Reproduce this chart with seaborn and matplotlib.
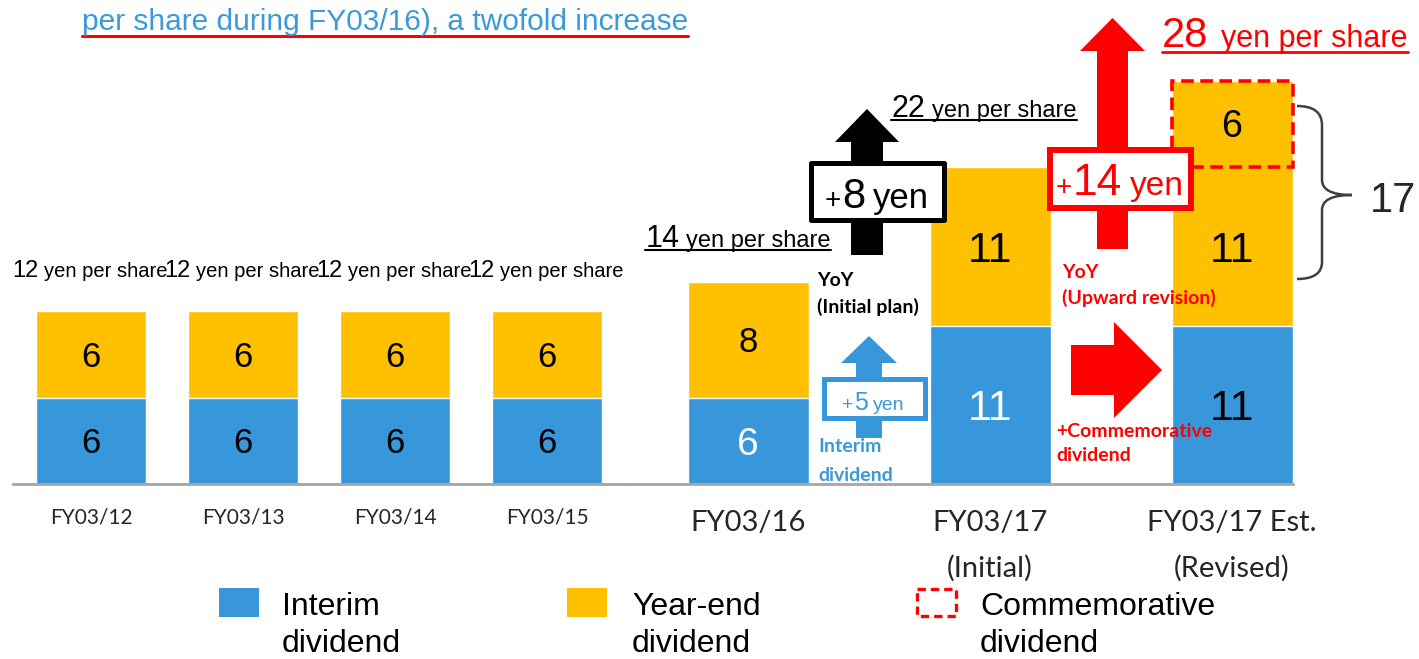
import matplotlib
matplotlib.use("Agg")
import matplotlib.pyplot as plt
import matplotlib.transforms as mtransforms
from matplotlib.patches import Rectangle, Polygon, PathPatch
from matplotlib.path import Path
from matplotlib.lines import Line2D
import pandas as pd
import seaborn as sns

# ---------- data ----------
past_years = ["FY03/12", "FY03/13", "FY03/14", "FY03/15"]
past_interim = [6, 6, 6, 6]
past_yearend = [6, 6, 6, 6]

recent_years = ["FY03/16", "FY03/17\n(Initial)", "FY03/17 Est.\n(Revised)"]
recent_interim = [6, 11, 11]
recent_yearend = [8, 11, 11]
recent_commem = [0, 0, 6]

legend_labels = [["Interim", "dividend"], ["Year-end", "dividend"],
                 ["Commemorative", "dividend"]]
headline = "per share during FY03/16), a twofold increase"

BLUE = "#3797DA"
YELLOW = "#FFC000"
RED = "#FF0000"
TEXT_BLUE = "#3A9AD9"
CALIBRI = ["Lato", "DejaVu Sans"]

sns.set_style("white")
plt.rcParams["font.family"] = ["Liberation Sans", "DejaVu Sans"]

W, H = 1419, 659
fig = plt.figure(figsize=(W / 100, H / 100), dpi=100)
# pixel coordinates of the picture, origin top-left
pix = mtransforms.Affine2D().scale(1 / W, -1 / H).translate(0, 1) + fig.transFigure
renderer = fig.canvas.get_renderer()

BASE = 484          # baseline row in pixels
PX_PER_YEN = 14.4
YMAX = 30
ax_b = (H - BASE) / H
ax_h = YMAX * PX_PER_YEN / H
axL = fig.add_axes([13 / W, ax_b, 614 / W, ax_h])
axR = fig.add_axes([627 / W, ax_b, 665.5 / W, ax_h])

past = pd.DataFrame({"year": past_years, "interim": past_interim, "yearend": past_yearend})
past["total"] = past["interim"] + past["yearend"]
recent = pd.DataFrame({"year": recent_years, "interim": recent_interim,
                       "yearend": recent_yearend, "commem": recent_commem})
recent["total"] = recent["interim"] + recent["yearend"] + recent["commem"]

# stacked bars: full height in yellow, interim part in blue on top of it
for ax, df, w in ((axL, past, 0.72), (axR, recent, 0.5)):
    sns.barplot(data=df, x="year", y="total", color=YELLOW, saturation=1,
                width=w, errorbar=None, ax=ax)
    sns.barplot(data=df, x="year", y="interim", color=BLUE, saturation=1,
                width=w, errorbar=None, ax=ax)

for ax, xlim in ((axL, (-0.513, 3.526)), (axR, (-0.5, 2.25))):
    ax.set_xlim(*xlim)
    ax.set_ylim(0, YMAX)
    ax.set_facecolor("none")
    sns.despine(ax=ax, left=True)
    ax.spines["bottom"].set_color("#A6A6A6")
    ax.spines["bottom"].set_linewidth(2)
    ax.set_yticks([])
    ax.set_xlabel("")
    ax.set_ylabel("")
    ax.tick_params(axis="x", length=0)

axL.set_xticks(range(len(past_years)))
axL.set_xticklabels(past_years, fontsize=15, family=CALIBRI)
axL.tick_params(axis="x", pad=17)
axR.set_xticks(range(len(recent_years)))
axR.set_xticklabels(recent_years, fontsize=21, family=CALIBRI, linespacing=1.85)
axR.tick_params(axis="x", pad=19)


def seg_label(ax, x, y, s, size, color):
    ax.annotate(s, (x, y), xytext=(0, -0.358 * size), textcoords="offset points",
                ha="center", va="baseline", fontsize=size, color=color)


for i, (a, b) in enumerate(zip(past_interim, past_yearend)):
    seg_label(axL, i, a / 2, str(a), 25, "black")
    seg_label(axL, i, a + b / 2, str(b), 25, "black")

interim_style = [(28, "white"), (31, "white"), (31, "black")]
yearend_style = [(25, "black"), (31, "black"), (31, "black")]
for i, (a, b, c) in enumerate(zip(recent_interim, recent_yearend, recent_commem)):
    seg_label(axR, i, a / 2, str(a), *interim_style[i])
    seg_label(axR, i, a + b / 2, str(b), *yearend_style[i])
    if c:
        seg_label(axR, i, a + b + c / 2, str(c), 27, "black")
        axR.add_patch(Rectangle((i - 0.25, a + b), 0.5, c, fill=False, ec=RED, lw=2.6,
                                ls=(0, (3.5, 1.8)), clip_on=False, zorder=5))


def to_pix(ax, x, y):
    px, py = ax.transData.transform((x, y))
    return px, H - py


def runs(parts, x, y, color="black", family=None, ha="center", underline=None, ulw=1.5):
    """Text made of pieces of different sizes on one baseline (pixel coords)."""
    family = family or ["Liberation Sans", "DejaVu Sans"]
    texts = [fig.text(0, 0, s, transform=pix, fontsize=sz, color=color, family=family,
                      ha="left", va="baseline") for s, sz, _ in parts]
    widths = [t.get_window_extent(renderer).width for t in texts]
    total = sum(widths) + sum(g for _, _, g in parts)
    x0 = x - total / 2 if ha == "center" else x
    start = x0
    for t, wd, (_, _, g) in zip(texts, widths, parts):
        x0 += g
        t.set_position((x0, y))
        x0 += wd
    if underline is not None:
        fig.add_artist(Line2D([start, x0], [y + underline] * 2, transform=pix,
                              color=color, lw=ulw))


def lines(x, baselines, strings, **kw):
    """One text per line, each on its own baseline (pixel coords)."""
    for y, s in zip(baselines, strings):
        fig.text(x, y, s, transform=pix, va="baseline", **kw)


# totals above the bars
for i, tot in enumerate(past["total"]):
    px, py = to_pix(axL, i, tot)
    runs([(str(tot), 17, 0), ("yen per share", 14.5, 5)], px - 1, py - 34)

tot = recent["total"].tolist()
px, py = to_pix(axR, 0, tot[0])
runs([(str(tot[0]), 22, 0), ("yen per share", 17, 7)], px - 10, py - 35, underline=3)
px, py = to_pix(axR, 1, tot[1])
runs([(str(tot[1]), 22, 0), ("yen per share", 17, 7)], px - 6, py - 50, underline=3)
px, py = to_pix(axR, 2, tot[2])
runs([(str(tot[2]), 30, 0), ("yen per share", 22, 13)], px + 53, py - 34,
     color=RED, underline=5, ulw=2)


# arrows
def up_arrow(cx, tip, head_base, bottom, head_hw, shaft_hw, color):
    pts = [(cx, tip), (cx + head_hw, head_base), (cx + shaft_hw, head_base),
           (cx + shaft_hw, bottom), (cx - shaft_hw, bottom), (cx - shaft_hw, head_base),
           (cx - head_hw, head_base)]
    fig.add_artist(Polygon(pts, closed=True, fc=color, ec="none", transform=pix))


up_arrow(867, 109, 142, 255, 32, 16, "black")
up_arrow(869, 336, 363, 438, 28, 13, BLUE)
up_arrow(1112.5, 18, 51, 249, 32.5, 15.5, RED)
fig.add_artist(Polygon([(1071, 345), (1114, 345), (1114, 322), (1162, 370), (1114, 418),
                        (1114, 395), (1071, 395)], closed=True, fc=RED, ec="none",
                       transform=pix))

# increase boxes
fig.add_artist(Rectangle((810.5, 162.5), 133, 57, fc="white", ec="black", lw=3.6,
                         joinstyle="round", transform=pix))
fig.add_artist(Rectangle((823.5, 378.5), 101, 39, fc="white", ec=BLUE, lw=3.6,
                         transform=pix))
fig.add_artist(Rectangle((1050, 150), 141, 58, fc="white", ec=RED, lw=4.3,
                         transform=pix))

yoy_initial = tot[1] - tot[0]
yoy_revised = tot[2] - tot[0]
interim_rise = recent_interim[1] - recent_interim[0]
runs([("+", 20, 0), (str(yoy_initial), 30, 1), ("yen", 25, 8)], 877, 208)
runs([("+", 20, 0), (str(yoy_revised), 32, 1), ("yen", 24, 8)], 1120, 195, color=RED)
runs([("+", 14, 0), (str(interim_rise), 18, 1), ("yen", 14, 5)], 873, 410, color=TEXT_BLUE)

bold = dict(family=CALIBRI, weight="bold", fontsize=14)
lines(817, [286, 313], ["YoY", "(Initial plan)"], color="black", **bold)
lines(818, [452, 481], ["Interim", "dividend"], color=TEXT_BLUE, **bold)
lines(1062, [278, 304], ["YoY", "(Upward revision)"], color=RED, **bold)
lines(1056, [437, 461], ["+Commemorative", "dividend"], color=RED, **bold)

# brace and year-end total of the revised estimate
brace = Path([(1297, 106), (1322, 106), (1322, 125), (1322, 180), (1322, 195), (1352, 195),
              (1322, 195), (1322, 210), (1322, 262), (1322, 279), (1297, 279)],
             [Path.MOVETO, Path.CURVE3, Path.CURVE3, Path.LINETO, Path.CURVE3, Path.CURVE3,
              Path.CURVE3, Path.CURVE3, Path.LINETO, Path.CURVE3, Path.CURVE3])
fig.add_artist(PathPatch(brace, fc="none", ec="#404040", lw=1.8, transform=pix))
fig.text(1370, 212, str(recent_yearend[2] + recent_commem[2]), transform=pix,
         fontsize=30, va="baseline")

# headline fragment
t = fig.text(82, 30, headline, transform=pix, fontsize=21.5, color=TEXT_BLUE, va="baseline")
hw = t.get_window_extent(renderer).width
fig.add_artist(Line2D([82, 82 + hw], [36, 36], transform=pix, color=RED, lw=2.2))

# legend
fig.add_artist(Rectangle((219, 588), 40, 29, fc=BLUE, ec="none", transform=pix))
fig.add_artist(Rectangle((567, 588), 40, 29, fc=YELLOW, ec="none", transform=pix))
fig.add_artist(Rectangle((917, 589), 39, 27, fill=False, ec=RED, lw=2.4,
                         ls=(0, (2.5, 1.5)), transform=pix))
for lx, lab in zip([282, 632, 980], legend_labels):
    lines(lx, [615, 652], lab, fontsize=23, color="black")

fig.savefig("out.png", dpi=100, facecolor="white")
